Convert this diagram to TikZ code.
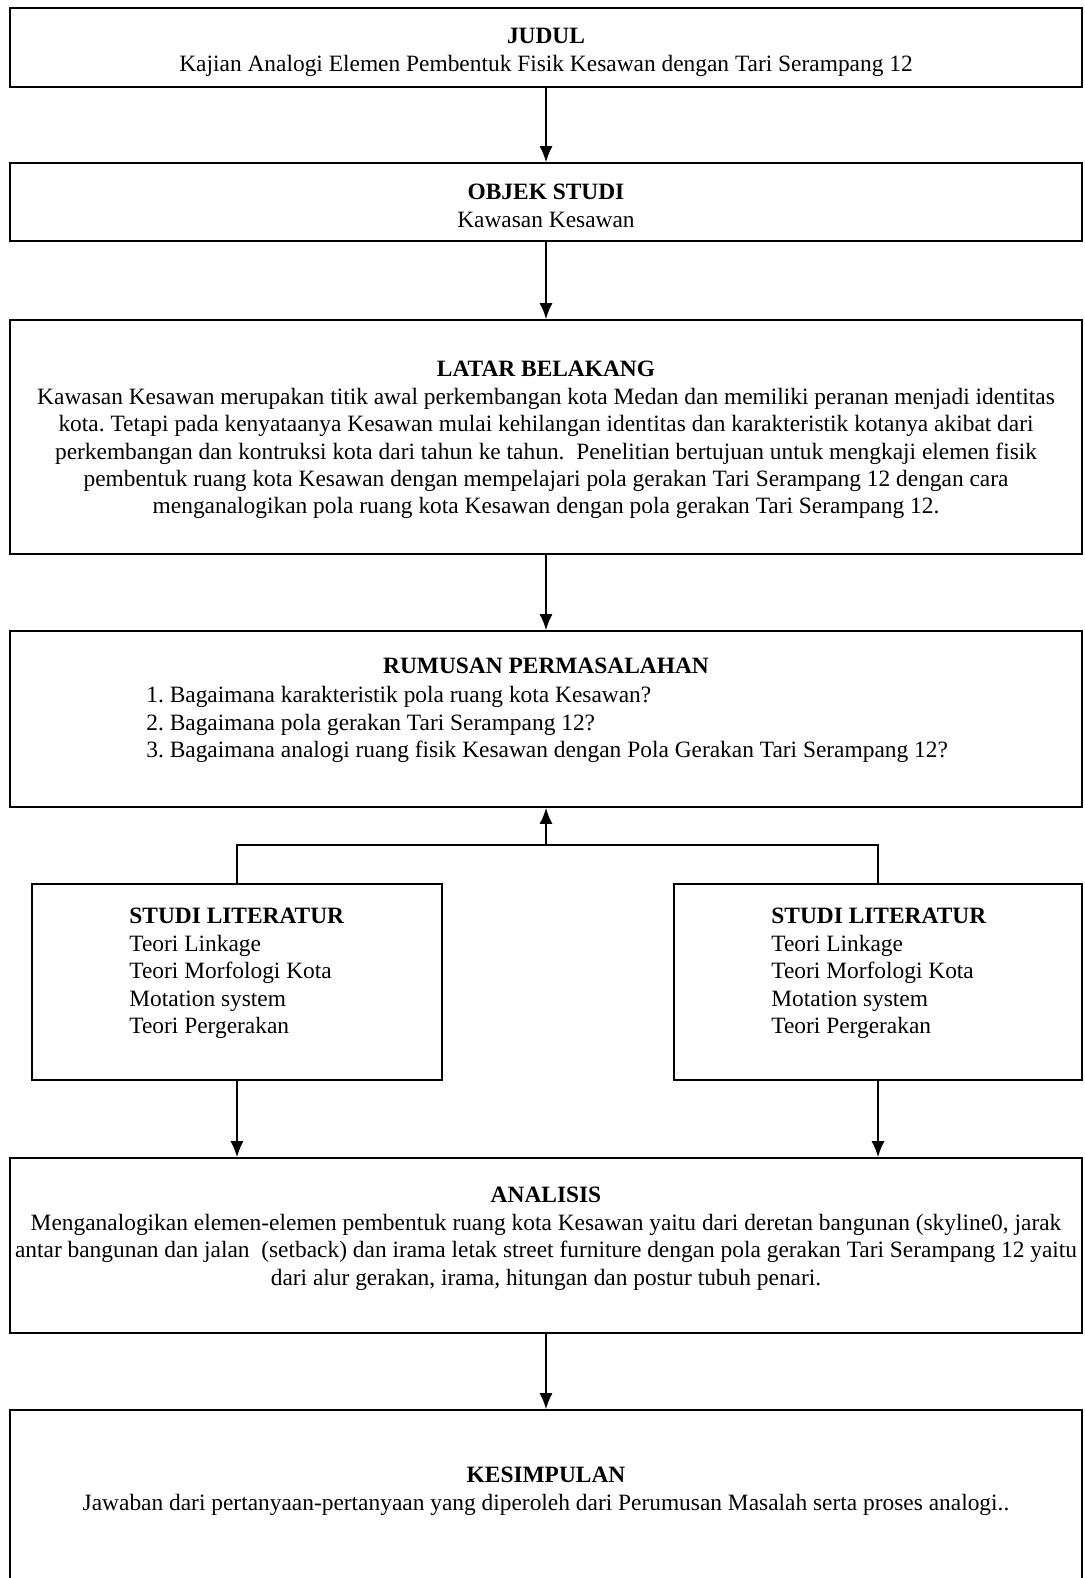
\documentclass[tikz,border=0pt]{standalone}
\usepackage{fontspec}
\setmainfont{Liberation Serif}
\usetikzlibrary{arrows.meta}
\frenchspacing

\begin{document}
\begin{tikzpicture}[x=0.5pt,y=-0.5pt,
  kotak/.style={draw,line width=0.9pt,inner sep=0,minimum width=536pt},
  teks/.style={font=\fontsize{11.7}{13.7}\selectfont,inner sep=0,align=center,anchor=north},
  panah/.style={-{Latex[length=8pt,width=6.5pt]},line width=0.7pt}]
\useasboundingbox (0,0) rectangle (1084,1578);
\clip (0,0) rectangle (1084,1578);
% kotak-kotak
\node[kotak,minimum height=39.5pt] (judul) at (546,47.5) {};
\node[kotak,minimum height=39pt] (objek) at (546,202) {};
\node[kotak,minimum height=117pt] (latar) at (546,437) {};
\node[kotak,minimum height=88pt] (rumusan) at (546,719) {};
\node[kotak,minimum width=205pt,minimum height=98pt] (studiL) at (237,982) {};
\node[kotak,minimum width=204pt,minimum height=98pt] (studiR) at (878,982) {};
\node[kotak,minimum height=87.5pt] (analisis) at (546,1245.5) {};
\node[kotak,minimum height=100pt] (kesimpulan) at (546,1510) {};
% isi teks
\node[teks] (tjudul) at (546,28) {\textbf{JUDUL}\\Kajian Analogi Elemen Pembentuk Fisik Kesawan dengan Tari Serampang 12};
\node[teks] (tobjek) at (546,184) {\textbf{OBJEK STUDI}\\Kawasan Kesawan};
\node[teks] (tlatar) at (546,361) {\textbf{LATAR BELAKANG}\\
Kawasan Kesawan merupakan titik awal perkembangan kota Medan dan memiliki peranan menjadi identitas\\
kota. Tetapi pada kenyataanya Kesawan mulai kehilangan identitas dan karakteristik kotanya akibat dari\\
perkembangan dan kontruksi kota dari tahun ke tahun.\ \ Penelitian bertujuan untuk mengkaji elemen fisik\\
pembentuk ruang kota Kesawan dengan mempelajari pola gerakan Tari Serampang 12 dengan cara\\
menganalogikan pola ruang kota Kesawan dengan pola gerakan Tari Serampang 12.};
\node[teks] (trumusan) at (546,658) {\textbf{RUMUSAN PERMASALAHAN}};
\node[teks,align=left,anchor=north west] (lrumusan) at (146,686) {1. Bagaimana karakteristik pola ruang kota Kesawan?\\
2. Bagaimana pola gerakan Tari Serampang 12?\\
3. Bagaimana analogi ruang fisik Kesawan dengan Pola Gerakan Tari Serampang 12?};
\node[teks,align=left,anchor=north west] (tstudiL) at (129,908) {\textbf{STUDI LITERATUR}\\Teori Linkage\\Teori Morfologi Kota\\Motation system\\Teori Pergerakan};
\node[teks,align=left,anchor=north west] (tstudiR) at (771,908) {\textbf{STUDI LITERATUR}\\Teori Linkage\\Teori Morfologi Kota\\Motation system\\Teori Pergerakan};
\node[teks] (tanalisis) at (546,1187) {\textbf{ANALISIS}\\
Menganalogikan elemen-elemen pembentuk ruang kota Kesawan yaitu dari deretan bangunan (skyline0, jarak\\
antar bangunan dan jalan\ \ (setback) dan irama letak street furniture dengan pola gerakan Tari Serampang 12 yaitu\\
dari alur gerakan, irama, hitungan dan postur tubuh penari.};
\node[teks] (tkesimpulan) at (546,1467) {\textbf{KESIMPULAN}\\Jawaban dari pertanyaan-pertanyaan yang diperoleh dari Perumusan Masalah serta proses analogi..};
% panah
\draw[panah] (judul) -- (objek);
\draw[panah] (objek) -- (latar);
\draw[panah] (latar) -- (rumusan);
\coordinate (cabang) at (546,845);
\draw[line width=0.7pt] (studiL.north) |- (cabang) -| (studiR.north);
\draw[panah] (cabang) -- (rumusan.south);
\draw[panah] (studiL.south) -- (studiL.south |- analisis.north);
\draw[panah] (studiR.south) -- (studiR.south |- analisis.north);
\draw[panah] (analisis) -- (kesimpulan);
\end{tikzpicture}
\end{document}
